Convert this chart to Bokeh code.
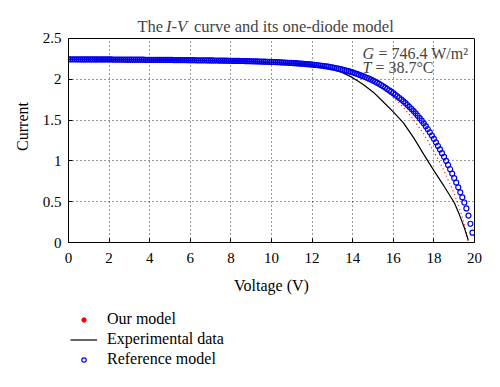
from bokeh.plotting import figure
from bokeh.layouts import column
from bokeh.models import (Label, Legend, LegendItem, FixedTicker, NumeralTickFormatter,
                          BoxAnnotation, Span, LinearAxis)
from bokeh.embed import file_html
from bokeh.resources import INLINE

# ---------------- data ----------------
x_ticks = [0, 2, 4, 6, 8, 10, 12, 14, 16, 18, 20]
y_ticks = [0, 0.5, 1, 1.5, 2, 2.5]

# Reference model, sampled every 0.1 V from 0 to 19.9 V
ref_current = [
    2.245, 2.245, 2.245, 2.245, 2.245, 2.244, 2.244, 2.244, 2.244, 2.244,
    2.244, 2.244, 2.244, 2.244, 2.243, 2.243, 2.243, 2.243, 2.243, 2.243,
    2.243, 2.243, 2.242, 2.242, 2.242, 2.242, 2.242, 2.242, 2.241, 2.241,
    2.241, 2.241, 2.241, 2.240, 2.240, 2.240, 2.240, 2.240, 2.239, 2.239,
    2.239, 2.239, 2.239, 2.238, 2.238, 2.238, 2.238, 2.237, 2.237, 2.237,
    2.237, 2.237, 2.236, 2.236, 2.236, 2.236, 2.235, 2.235, 2.235, 2.234,
    2.234, 2.234, 2.234, 2.233, 2.233, 2.233, 2.232, 2.232, 2.232, 2.231,
    2.231, 2.231, 2.230, 2.230, 2.229, 2.229, 2.229, 2.228, 2.228, 2.227,
    2.227, 2.226, 2.226, 2.225, 2.225, 2.224, 2.224, 2.223, 2.222, 2.222,
    2.221, 2.220, 2.220, 2.219, 2.218, 2.217, 2.216, 2.216, 2.215, 2.214,
    2.213, 2.212, 2.211, 2.210, 2.209, 2.207, 2.206, 2.205, 2.203, 2.202,
    2.200, 2.198, 2.197, 2.195, 2.193, 2.191, 2.189, 2.187, 2.185, 2.182,
    2.180, 2.177, 2.175, 2.172, 2.169, 2.166, 2.162, 2.159, 2.155, 2.150,
    2.145, 2.140, 2.135, 2.130, 2.124, 2.118, 2.112, 2.106, 2.099, 2.092,
    2.085, 2.076, 2.067, 2.058, 2.049, 2.040, 2.030, 2.019, 2.008, 1.997,
    1.985, 1.972, 1.958, 1.944, 1.930, 1.915, 1.899, 1.882, 1.865, 1.848,
    1.830, 1.811, 1.791, 1.771, 1.751, 1.730, 1.708, 1.685, 1.661, 1.636,
    1.610, 1.583, 1.554, 1.524, 1.493, 1.460, 1.425, 1.389, 1.351, 1.311,
    1.270, 1.227, 1.184, 1.140, 1.095, 1.050, 1.001, 0.951, 0.899, 0.845,
    0.790, 0.734, 0.676, 0.615, 0.553, 0.490, 0.418, 0.330, 0.230, 0.120,
]
ref_voltage = [round(k * 0.1, 1) for k in range(len(ref_current))]

model_voltage = [0, 1, 2, 3, 4, 5, 6, 7, 8, 9, 10, 11, 12, 12.5, 13, 13.5, 14,
                 14.5, 15, 15.5, 16, 16.5, 17, 17.5, 18, 18.5, 19, 19.25, 19.5, 19.7]
model_current = [2.245, 2.244, 2.243, 2.241, 2.239, 2.237, 2.234, 2.231, 2.226,
                 2.220, 2.211, 2.197, 2.176, 2.162, 2.140, 2.110, 2.073, 2.027,
                 1.965, 1.885, 1.780, 1.655, 1.505, 1.330, 1.115, 0.880, 0.600,
                 0.430, 0.225, 0.0]

exp_voltage = [0, 1, 2, 3, 4, 5, 6, 7, 8, 9, 10, 11, 12, 12.5, 13, 13.5, 14,
               14.5, 15, 15.5, 16, 16.5, 17, 17.5, 18, 18.5, 19, 19.25, 19.5, 19.69]
exp_current = [2.244, 2.243, 2.242, 2.240, 2.238, 2.235, 2.232, 2.228, 2.223,
               2.217, 2.208, 2.193, 2.170, 2.153, 2.128, 2.082, 2.020, 1.940,
               1.845, 1.725, 1.600, 1.465, 1.285, 1.080, 0.880, 0.690, 0.490,
               0.345, 0.180, 0.030]

legend_labels = ["Our model", "Experimental data", "Reference model"]

FONT = "Liberation Serif"
W = 484
LEFT = 68
RIGHT = 10
X_MAX, Y_MAX = 20, 2.5
Y_TOP = 2.843          # frame extends above the axes box to hold the title

# ---------------- main plot ----------------
p = figure(frame_width=406, frame_height=232, x_range=(0, X_MAX), y_range=(0, Y_TOP),
           output_backend="svg", toolbar_location=None, title=None,
           min_border_left=LEFT, min_border_right=RIGHT,
           min_border_top=10, min_border_bottom=58)
p.background_fill_color = "white"
p.border_fill_color = "white"
p.outline_line_color = None

p.xaxis.ticker = FixedTicker(ticks=x_ticks)
p.yaxis.ticker = FixedTicker(ticks=y_ticks)
p.yaxis.bounds = (0, Y_MAX)
p.yaxis.formatter = NumeralTickFormatter(format="0.[0]")
p.xaxis.axis_label = "Voltage (V)"
p.yaxis.axis_label = "Current"
for ax in (p.xaxis, p.yaxis):
    ax.axis_label_text_font = FONT
    ax.axis_label_text_font_style = "normal"
    ax.axis_label_text_font_size = "16px"
    ax.axis_label_text_color = "black"
    ax.major_label_text_font = FONT
    ax.major_label_text_font_size = "15px"
    ax.major_label_text_color = "black"
    ax.major_tick_in = 4
    ax.major_tick_out = 0
    ax.minor_tick_in = 0
    ax.minor_tick_out = 0
    ax.axis_line_color = "black"
    ax.major_tick_line_color = "black"
p.xaxis.major_label_standoff = 10
p.yaxis.major_label_standoff = 7
p.xaxis.axis_label_standoff = 11
p.yaxis.axis_label_standoff = 9
p.yaxis.axis_label_text_align = "center"

# right edge of the axes box
right_axis = LinearAxis(ticker=FixedTicker(ticks=[]), bounds=(0, Y_MAX),
                        axis_line_color="black", major_tick_in=0, major_tick_out=0,
                        minor_tick_in=0, minor_tick_out=0)
p.add_layout(right_axis, "right")

p.grid.grid_line_color = "black"
p.grid.grid_line_dash = "1 3"
p.grid.grid_line_alpha = 0.8
p.grid.grid_line_width = 1

p.line(model_voltage, model_current, line_color="red", line_dash="1 3", line_width=1.2)
p.line(exp_voltage, exp_current, line_color="black", line_width=1.2)
p.scatter(ref_voltage, ref_current, marker="circle", size=5,
          fill_color=None, line_color="#0000ee", line_width=1.2)

# blank strip above the axes box (title area) and the box's top edge
p.add_layout(BoxAnnotation(bottom=Y_MAX, fill_color="white", fill_alpha=1,
                           line_color=None))
p.add_layout(Span(location=Y_MAX, dimension="width", line_color="black", line_width=1))

# title (italic I-V)
title_y = 2.653
p.add_layout(Label(x=(137 - LEFT) / 20.3, y=title_y, text="The", text_font=FONT,
                   text_font_size="16.5px", text_baseline="alphabetic"))
p.add_layout(Label(x=(165.5 - LEFT) / 20.3, y=title_y, text="I-V", text_font=FONT,
                   text_font_style="italic", text_font_size="16.5px",
                   text_baseline="alphabetic"))
p.add_layout(Label(x=(193.5 - LEFT) / 20.3, y=title_y,
                   text="curve and its one-diode model", text_font=FONT,
                   text_font_size="16.5px", text_baseline="alphabetic"))

# conditions
p.add_layout(Label(x=14.48, y=2.322, text="G", text_font=FONT, text_font_style="italic",
                   text_font_size="16px", text_baseline="alphabetic"))
p.add_layout(Label(x=15.07, y=2.322, text="= 746.4 W/m²", text_font=FONT,
                   text_font_size="16px", text_baseline="alphabetic", x_offset=4))
p.add_layout(Label(x=14.48, y=2.15, text="T", text_font=FONT, text_font_style="italic",
                   text_font_size="16px", text_baseline="alphabetic"))
p.add_layout(Label(x=14.92, y=2.15, text="= 38.7°C", text_font=FONT,
                   text_font_size="16px", text_baseline="alphabetic", x_offset=4))

# ---------------- legend strip ----------------
lf = figure(width=W, height=75, x_range=(0, X_MAX), y_range=(0, Y_MAX),
            x_axis_type=None, y_axis_type=None, toolbar_location=None, title=None,
            output_backend="svg", min_border=0, outline_line_color=None)
lf.grid.visible = False
red_key = lf.scatter(model_voltage, model_current, marker="circle", size=3,
                     fill_color="red", line_color="red", visible=False)
black_key = lf.line(exp_voltage, exp_current, line_color="black", line_width=1.2,
                    visible=False)
blue_key = lf.scatter(ref_voltage, ref_current, marker="circle", size=5,
                      fill_color=None, line_color="#0000ee", line_width=1.2,
                      visible=False)

legend = Legend(items=[
    LegendItem(label=legend_labels[0], renderers=[red_key]),
    LegendItem(label=legend_labels[1], renderers=[black_key]),
    LegendItem(label=legend_labels[2], renderers=[blue_key]),
], location=(2, 6), orientation="vertical")
legend.border_line_color = None
legend.background_fill_alpha = 0
legend.label_text_font = FONT
legend.label_text_font_size = "16px"
legend.label_text_color = "black"
legend.glyph_width = 27
legend.glyph_height = 11
legend.label_height = 20
legend.label_standoff = 10
legend.spacing = 0
legend.padding = 0
legend.margin = 0
lf.add_layout(legend)

layout = column(p, lf, spacing=0)
open("out.html", "w").write(file_html(layout, INLINE))
